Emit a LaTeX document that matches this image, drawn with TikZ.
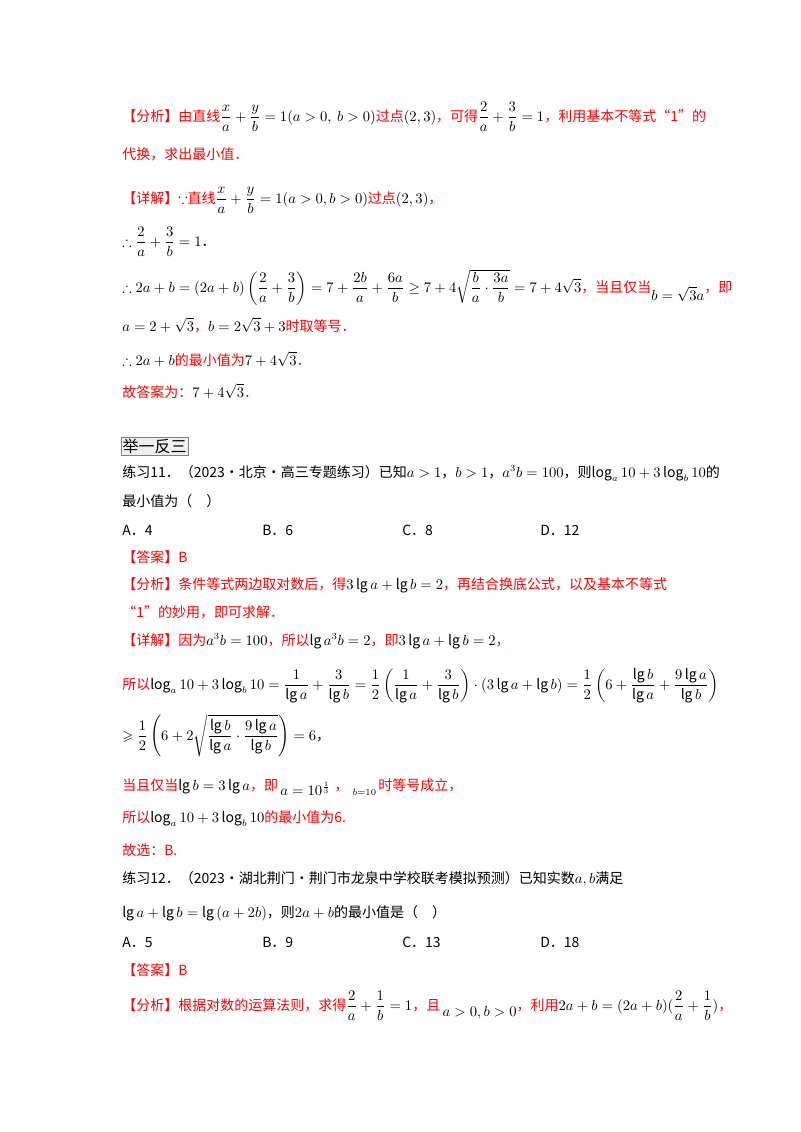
\documentclass[tikz,border=0pt]{standalone}
\usepackage{fontspec}
\usepackage{amsmath,amssymb}
\setmainfont{Noto Sans CJK SC}
\definecolor{rd}{rgb}{1,0,0}
\newcommand\m[1]{\textcolor{black}{$#1$}}
\tikzset{ln/.style={anchor=base west,inner sep=0pt,font=\fontsize{10.5}{12}\selectfont},
 red/.style={ln,text=rd}}
\begin{document}
\begin{tikzpicture}[x=0.75pt,y=-0.75pt]
\useasboundingbox (0,0) rectangle (800,1132);
\node[red] (a1) at (122,121) {【分析】由直线\m{\dfrac{x}{a}+\dfrac{y}{b}=1(a>0,\ b>0)}过点\m{(2,3)}，可得\m{\dfrac{2}{a}+\dfrac{3}{b}=1}，利用基本不等式“1”的};
\node[red] (a2) at (122,159) {代换，求出最小值．};
\node[red] (a3) at (122,203) {【详解】\m{\because}直线\m{\dfrac{x}{a}+\dfrac{y}{b}=1(a>0,b>0)}过点\m{(2,3)}，};
\node[ln] (a4) at (122,246) {$\therefore\dfrac{2}{a}+\dfrac{3}{b}=1$．};
\node[red] (a5) at (122,292) {\m{\therefore 2a+b=(2a+b)\left(\dfrac{2}{a}+\dfrac{3}{b}\right)=7+\dfrac{2b}{a}+\dfrac{6a}{b}\geq 7+4\sqrt{\dfrac{b}{a}\cdot\dfrac{3a}{b}}=7+4\sqrt3}，当且仅当\raisebox{-6pt}{\m{b=\sqrt3 a}}，即};
\node[red] (a6) at (122,331) {\m{a=2+\sqrt3}，\m{b=2\sqrt3+3}时取等号．};
\node[red] (a7) at (122,365) {\m{\therefore 2a+b}的最小值为\m{7+4\sqrt3}．};
\node[red] (a8) at (122,397) {故答案为：\m{7+4\sqrt3}．};
\node[anchor=north west,draw=gray,fill=gray!12,inner sep=1pt,font=\fontsize{12}{13}\selectfont] (box) at (121,437) {举一反三};
\node[ln] (b1) at (122,477) {练习11．（2023·北京·高三专题练习）已知$a>1$，$b>1$，$a^3b=100$，则$\log_a10+3\log_b10$的};
\node[ln] (b2) at (122,506) {最小值为（　）};
\node[ln] (c1) at (122,535) {A．4};
\node[ln] (c2) at (262,535) {B．6};
\node[ln] (c3) at (402,535) {C．8};
\node[ln] (c4) at (540,535) {D．12};
\node[red] (b3) at (122,562) {【答案】B};
\node[red] (b4) at (122,589) {【分析】条件等式两边取对数后，得\m{3\lg a+\lg b=2}，再结合换底公式，以及基本不等式};
\node[red] (b5) at (122,617) {“1”的妙用，即可求解．};
\node[red] (b6) at (122,645) {【详解】因为\m{a^3b=100}，所以\m{\lg a^3b=2}，即\m{3\lg a+\lg b=2}，};
\node[red] (b7) at (122,689) {所以\m{\log_a10+3\log_b10=\dfrac{1}{\lg a}+\dfrac{3}{\lg b}=\dfrac12\left(\dfrac{1}{\lg a}+\dfrac{3}{\lg b}\right)\cdot(3\lg a+\lg b)=\dfrac12\left(6+\dfrac{\lg b}{\lg a}+\dfrac{9\lg a}{\lg b}\right)}};
\node[ln] (b8) at (122,740) {$\geqslant\dfrac12\left(6+2\sqrt{\dfrac{\lg b}{\lg a}\cdot\dfrac{9\lg a}{\lg b}}\right)=6$，};
\node[red] (b9) at (122,790) {当且仅当\m{\lg b=3\lg a}，即\,\raisebox{-4pt}{\m{a=10^{\frac13}}}\hspace{3pt}，\hspace{3pt}\raisebox{-4pt}{\m{\scriptstyle b=10}}\,时等号成立，};
\node[red] (b10) at (122,822) {所以\m{\log_a10+3\log_b10}的最小值为6.};
\node[red] (b11) at (122,855) {故选：B.};
\node[ln] (d1) at (122,883) {练习12．（2023·湖北荆门·荆门市龙泉中学校联考模拟预测）已知实数$a,b$满足};
\node[ln] (d2) at (122,917) {$\lg a+\lg b=\lg\left(a+2b\right)$，则$2a+b$的最小值是（　）};
\node[ln] (e1) at (122,947) {A．5};
\node[ln] (e2) at (262,947) {B．9};
\node[ln] (e3) at (402,947) {C．13};
\node[ln] (e4) at (540,947) {D．18};
\node[red] (d3) at (122,975) {【答案】B};
\node[red] (d4) at (122,1010) {【分析】根据对数的运算法则，求得\m{\dfrac{2}{a}+\dfrac{1}{b}=1}，且\,\raisebox{-5pt}{\m{a>0,b>0}}，利用\m{2a+b=(2a+b)(\dfrac{2}{a}+\dfrac{1}{b})}，};
\end{tikzpicture}
\end{document}
